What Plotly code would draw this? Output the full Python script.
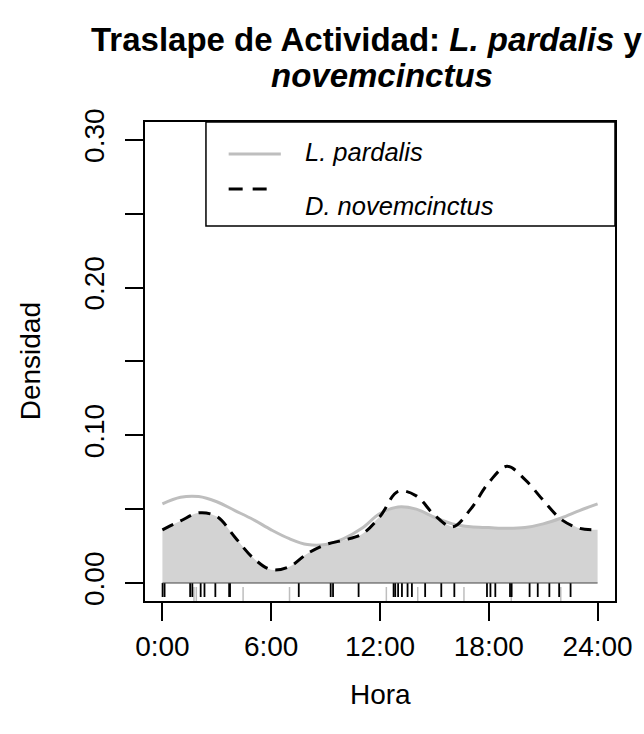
import plotly.graph_objects as go

# Kernel density estimates of daily activity (hour of day, density)
hours = list(range(0, 25))
pardalis_density = [0.0535, 0.058, 0.0585, 0.055, 0.049, 0.043, 0.036, 0.030,
                    0.026, 0.026, 0.030, 0.037, 0.047, 0.0515, 0.050, 0.0445,
                    0.040, 0.038, 0.0375, 0.037, 0.0375, 0.040, 0.044, 0.049, 0.0535]
novemcinctus_density = [0.036, 0.042, 0.0475, 0.045, 0.031, 0.017, 0.009, 0.011,
                        0.020, 0.026, 0.029, 0.033, 0.045, 0.062, 0.059, 0.046,
                        0.038, 0.050, 0.068, 0.079, 0.070, 0.056, 0.043, 0.037, 0.036]

# Detection times (hours) used for the rug
pardalis_times = [1.74, 1.87, 4.45, 7.01, 12.35, 14.08, 16.63, 19.24, 21.97]
novemcinctus_times = [0.01, 0.12, 1.53, 1.65, 2.11, 2.32, 2.92, 3.68, 3.73, 7.52,
                      9.28, 9.41, 10.82, 12.75, 12.84, 13.0, 13.21, 13.52, 13.76,
                      14.49, 15.38, 16.1, 17.9, 18.09, 18.36, 19.17, 19.26, 20.25,
                      20.7, 21.34, 21.88, 22.51]

tick_hours = [0, 6, 12, 18, 24]
tick_hour_labels = ["0:00", "6:00", "12:00", "18:00", "24:00"]
density_ticks = [0.0, 0.05, 0.10, 0.15, 0.20, 0.25, 0.30]
density_tick_labels = ["0.00", "", "0.10", "", "0.20", "", "0.30"]

FONT = "Liberation Sans, Arial, sans-serif"
GREY_LINE = "#BEBEBE"
FILL = "#D3D3D3"

overlap = [min(a, b) for a, b in zip(pardalis_density, novemcinctus_density)]


def rug(times, y0, y1):
    xs, ys = [], []
    for t in times:
        xs += [t, t, None]
        ys += [y0, y1, None]
    return xs, ys


fig = go.Figure()

# shaded overlap area
fig.add_trace(go.Scatter(x=hours, y=overlap, mode="lines", fill="tozeroy",
                         fillcolor=FILL, line=dict(width=0, shape="spline"),
                         hoverinfo="skip"))
fig.add_trace(go.Scatter(x=hours, y=pardalis_density, mode="lines",
                         line=dict(color=GREY_LINE, width=3, shape="spline")))
fig.add_trace(go.Scatter(x=hours, y=novemcinctus_density, mode="lines",
                         line=dict(color="black", width=3, shape="spline",
                                   dash="12px,8px")))

rx, ry = rug(pardalis_times, -0.0027, -0.0122)
fig.add_trace(go.Scatter(x=rx, y=ry, mode="lines",
                         line=dict(color=GREY_LINE, width=1.5)))
rx, ry = rug(novemcinctus_times, 0.0, -0.0095)
fig.add_trace(go.Scatter(x=rx, y=ry, mode="lines",
                         line=dict(color="black", width=1.8)))

# baseline under the density area
fig.add_trace(go.Scatter(x=[0, 24], y=[0, 0], mode="lines",
                         line=dict(color="#444444", width=1.2), hoverinfo="skip"))

annotations = [
    dict(text="<b>Traslape de Actividad: <i>L. pardalis</i> y</b>",
         xref="paper", yref="paper", x=-0.119, y=1.173, xanchor="left",
         yanchor="middle", showarrow=False, font=dict(size=33, family=FONT, color="black")),
    dict(text="<b><i>novemcinctus</i></b>",
         xref="paper", yref="paper", x=0.504, y=1.098, xanchor="center",
         yanchor="middle", showarrow=False, font=dict(size=33, family=FONT, color="black")),
    dict(text="Hora", xref="paper", yref="paper", x=0.5, y=-0.196,
         xanchor="center", yanchor="middle", showarrow=False,
         font=dict(size=28, family=FONT, color="black")),
    dict(text="Densidad", xref="paper", yref="paper", x=-0.243, y=0.5,
         xanchor="center", yanchor="middle", textangle=-90, showarrow=False,
         font=dict(size=28, family=FONT, color="black")),
    dict(text="<i>L. pardalis</i>", xref="paper", yref="paper", x=0.336, y=0.937,
         xanchor="left", yanchor="middle", showarrow=False,
         font=dict(size=25.5, family=FONT, color="black")),
    dict(text="<i>D. novemcinctus</i>", xref="paper", yref="paper", x=0.336, y=0.825,
         xanchor="left", yanchor="middle", showarrow=False,
         font=dict(size=25.5, family=FONT, color="black")),
]

shapes = [
    dict(type="rect", xref="paper", yref="paper", x0=0.1297, x1=1.0, y0=0.783, y1=1.0,
         line=dict(color="black", width=1.5), fillcolor="white", layer="above"),
    dict(type="line", xref="paper", yref="paper", x0=0.178, x1=0.289, y0=0.933, y1=0.933,
         line=dict(color=GREY_LINE, width=3), layer="above"),
    dict(type="line", xref="paper", yref="paper", x0=0.178, x1=0.272, y0=0.860, y1=0.860,
         line=dict(color="black", width=3, dash="14px,10px"), layer="above"),
]

fig.update_layout(
    width=644, height=734,
    margin=dict(l=145, r=21, t=122, b=133),
    paper_bgcolor="white", plot_bgcolor="white",
    showlegend=False,
    font=dict(family=FONT, color="black"),
    annotations=annotations, shapes=shapes,
)
fig.update_xaxes(range=[-0.96, 24.96], tickvals=tick_hours, ticktext=tick_hour_labels,
                 ticks="outside", ticklen=18, tickwidth=1.5, tickcolor="black",
                 showline=True, linecolor="black", linewidth=1.5, mirror=True,
                 showgrid=False, zeroline=False, ticklabelstandoff=2,
                 tickfont=dict(size=28, family=FONT, color="black"))
fig.update_yaxes(range=[-0.0122, 0.3121], tickvals=density_ticks,
                 ticktext=density_tick_labels, tickangle=-90,
                 ticks="outside", ticklen=18, tickwidth=1.5, tickcolor="black",
                 showline=True, linecolor="black", linewidth=1.5, mirror=True,
                 showgrid=False, zeroline=False, ticklabelstandoff=10,
                 tickfont=dict(size=28, family=FONT, color="black"))

fig.write_html("out.html")
